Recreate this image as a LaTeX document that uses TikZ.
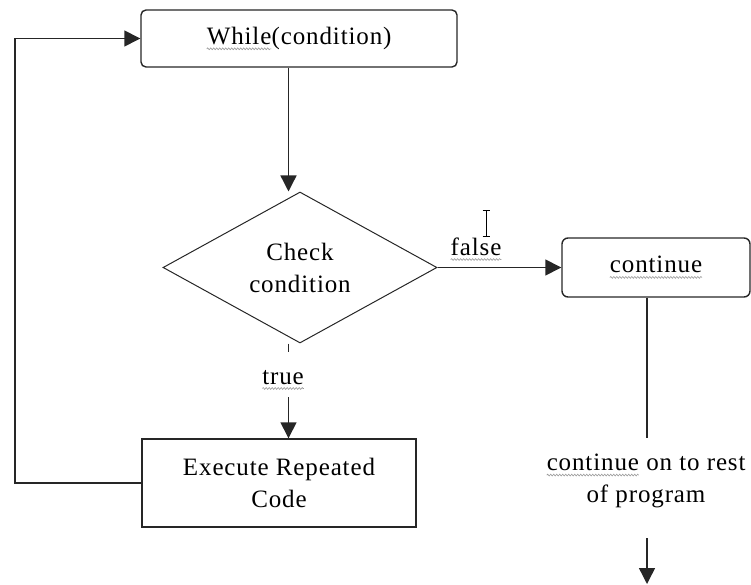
\documentclass[tikz,border=0pt]{standalone}
\usepackage{fontspec}
\setmainfont{Liberation Serif}[LetterSpace=3.5]
\usetikzlibrary{arrows.meta,shapes.geometric,decorations.pathmorphing}
\tikzset{
  squig/.style={draw=gray!80,line width=0.6pt,sharp corners,decorate,decoration={snake,amplitude=0.9pt,segment length=3pt}},
  sqnode/.style={shape=rectangle,draw=none,fill=none,minimum width=0pt,minimum height=0pt,inner sep=0pt,outer sep=0pt,sharp corners,anchor=base},
  lbl/.style={font=\fontsize{25}{32}\selectfont,align=center,inner sep=0pt},
  rbox/.style={draw=black!85,line width=1.4pt,rounded corners=5pt,inner sep=0pt,font=\fontsize{25}{32}\selectfont,align=center},
  sbox/.style={draw=black!85,line width=1.4pt,inner sep=0pt,font=\fontsize{25}{32}\selectfont,align=center},
  dbox/.style={diamond,draw=black!85,line width=1pt,inner sep=0pt,font=\fontsize{25}{32}\selectfont,align=center},
  conn/.style={draw=black!85,line width=1.4pt},
  arr/.style={conn,-{Triangle[length=16pt,width=16pt]}},
}
\newcommand\sqword[1]{\tikz[baseline=(sqw.base)]{\node[sqnode](sqw){#1};\draw[squig] ([yshift=-4.5pt]sqw.base west) -- ([yshift=-4.5pt]sqw.base east);}}
\begin{document}
\begin{tikzpicture}[x=1pt,y=-1pt]
\useasboundingbox (0,0) rectangle (751,585);
% nodes
\node[rbox,minimum width=316pt,minimum height=57pt] (while) at (299,38.5) {\sqword{While}(condition)};
\node[dbox,minimum width=274pt,minimum height=143pt] (dec) at (300,267.5) {Check\\condition};
\node[sbox,minimum width=274pt,minimum height=88pt] (exec) at (279,483) {Execute Repeated\\Code};
\node[rbox,rounded corners=6pt,minimum width=188pt,minimum height=59pt] (cont) at (656,267.5) {\sqword{continue}};
\node[lbl] (rest) at (646,481) {\sqword{continue} on to rest\\of program};
\node[lbl,anchor=base] (truel) at (283,384) {\sqword{true}};
\node[lbl,anchor=base] (falsel) at (476,255) {\sqword{false}};
% helper coordinates
\coordinate (colA) at (288.5,0);
\coordinate (colB) at (647,0);
\coordinate (loopc) at (15,0);
\coordinate (tdash) at (288.5,352);
\coordinate (tres) at (288.5,397);
\coordinate (rtop) at (647,438);
\coordinate (rbot1) at (647,538);
\coordinate (rbot2) at (647,584);
% connectors
\draw[arr] (while.south -| colA) -- (dec.north -| colA);
\draw[conn] (dec.south -| colA) -- (tdash);
\draw[arr] (tres) -- (exec.north -| colA);
\draw[arr] (dec.east) -- (cont.west);
\draw[arr] (exec.west) -- (exec.west -| loopc) |- (while.west);
\draw[conn] (cont.south -| colB) -- (rtop);
\draw[arr] (rbot1) -- (rbot2);
% text cursor (I-beam)
\draw[line width=1pt] (486,211) -- (486,236) (482.5,211) -- (489.5,211) (482.5,236) -- (489.5,236);
\end{tikzpicture}
\end{document}
